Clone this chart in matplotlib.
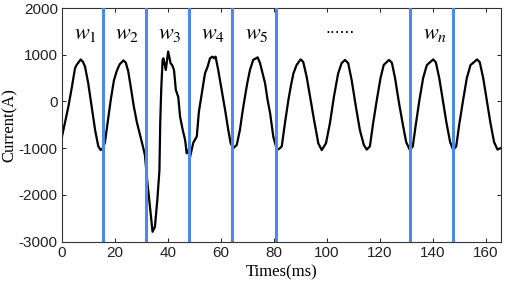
import matplotlib
matplotlib.use("Agg")
import matplotlib.pyplot as plt

times = [0.0, 1.2, 2.4, 3.7, 4.9, 5.5, 7.06, 7.9, 8.7, 9.9, 11.2, 12.5, 13.7, 14.6, 15.4,
         16.2, 17.2, 18.4, 19.6, 20.6, 21.7, 23.2, 24.1, 25.0, 26.0, 27.1, 28.3, 29.5, 30.5, 31.3,
         32.2, 33.2, 34.2, 35.1, 36.0, 36.8, 37.1, 37.5, 38.0, 38.3, 39.2, 40.1, 41.0, 41.6,
         42.3, 43.0, 43.9, 44.6, 45.6, 46.5, 47.1, 47.7, 48.4, 49.6, 50.9, 51.7, 52.8, 54.0,
         55.0, 55.9, 56.8, 57.5, 58.0, 59.0, 60.3, 61.6, 62.8, 63.7, 64.7, 66.0, 67.2, 68.1,
         69.1, 70.0, 71.0, 72.2, 73.9, 74.8, 75.7, 76.7, 77.6, 78.6, 79.8, 81.0, 81.7, 82.3,
         83.0, 84.2, 85.5, 86.5, 87.4, 88.6, 90.1, 91.1, 92.4, 93.9, 95.2, 96.8, 98.1, 99.7,
         101.2, 102.7, 104.3, 105.6, 106.9, 108.1, 109.4, 111.0, 112.5, 114.0, 115.1, 116.3,
         117.5, 118.9, 120.3, 121.5, 123.5, 124.6, 125.8, 127.2, 128.6, 130.0, 131.4, 132.5,
         133.7, 135.0, 136.4, 137.8, 140.2, 141.2, 142.5, 143.9, 145.2, 146.6, 147.8, 148.9,
         150.1, 151.5, 152.9, 154.3, 156.8, 157.8, 159.1, 160.5, 161.8, 163.2, 164.5, 165.6]
current = [-750, -430, -110, 300, 710, 780, 900, 850, 745, 390, -110, -610, -960, -1040, -1000,
           -880, -470, 30, 450, 640, 790, 880, 830, 650, 300, -100, -450, -720, -950, -1145,
           -1700, -2250, -2790, -2680, -2110, -1470, -450, 300, 890, 925, 675, 1070, 820, 780,
           675, 245, 100, -325, -610, -825, -1110, -1040, -1180, -880, -750, -220, 175, 600,
           745, 925, 960, 925, 960, 675, 245, -180, -610, -895, -1000, -930, -610, -250,
           100, 400, 675, 890, 945, 820, 620, 390, 50, -250, -750, -1000, -1025, -1000,
           -960, -465, 30, 350, 600, 780, 900, 850, 530, 30, -395, -895, -1040, -895,
           -465, 100, 600, 820, 890, 820, 460, -110, -610, -930, -1030, -960,
           -470, 30, 500, 780, 890, 830, 500, 0, -450, -870, -1040, -960,
           -470, 30, 500, 780, 900, 840, 500, 0, -450, -870, -1040, -960,
           -470, 30, 500, 780, 900, 840, 500, 0, -450, -870, -1030, -1000]

# window boundaries (ms)
boundaries = [15.5, 31.6, 48.1, 64.3, 80.8, 131.6, 147.8]

# window labels and where they sit
window_labels = ['$w_1$', '$w_2$', '$w_3$', '$w_4$', '$w_5$', '......', '$w_n$']
label_x = [8.7, 24.5, 40.8, 57.0, 73.6, 105.0, 141.0]
label_y = 1450

plt.rcParams['mathtext.fontset'] = 'stix'
plt.rcParams['axes.unicode_minus'] = False

fig = plt.figure(figsize=(5.05, 2.88), dpi=100)
ax = fig.add_axes([0.1228, 0.161, 0.8692, 0.811])

for b in boundaries:
    ax.axvline(b, color='#4d8ae6', linewidth=2.2, zorder=3)

ax.plot(times, current, color='black', linewidth=1.6, zorder=2)

for lab, x in zip(window_labels, label_x):
    if lab.startswith('$'):
        ax.text(x, label_y, lab, fontsize=16, ha='center', va='center')
    else:
        ax.text(x, label_y + 120, lab, fontsize=11, ha='center', va='center')

ax.set_xlim(0, 165.8)
ax.set_ylim(-3000, 2000)
ax.set_xticks([0, 20, 40, 60, 80, 100, 120, 140, 160])
ax.set_yticks([-3000, -2000, -1000, 0, 1000, 2000])
ax.tick_params(direction='in', length=3, width=0.7, top=True, right=True,
               labelsize=11, colors='#222222', pad=3)
for lbl in ax.get_xticklabels() + ax.get_yticklabels():
    lbl.set_fontfamily('Liberation Sans')
for s in ax.spines.values():
    s.set_linewidth(0.8)
    s.set_color('#333333')

ax.set_xlabel('Times(ms)', fontfamily='Liberation Serif', fontsize=12, labelpad=3)
ax.set_ylabel('Current(A)', fontfamily='Liberation Serif', fontsize=12, labelpad=1)

fig.savefig('out.png', dpi=100)
